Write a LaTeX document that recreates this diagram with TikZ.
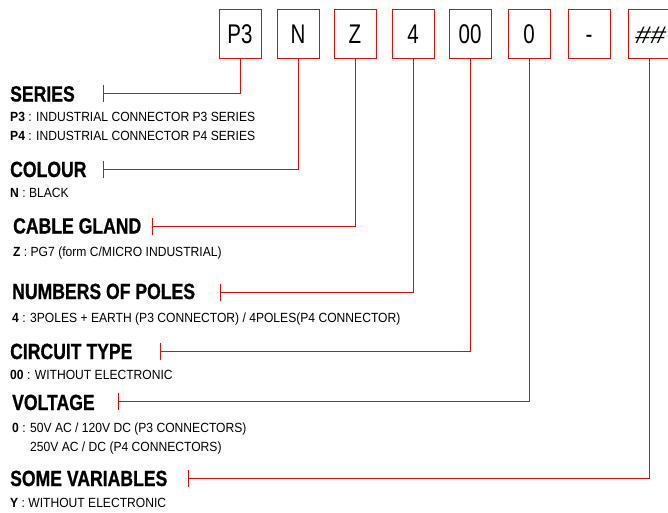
\documentclass[tikz,border=0pt]{standalone}
\usepackage{fontspec}
\setmainfont{Liberation Sans}[FakeStretch=0.91]
\newfontfamily\headfont{Liberation Sans}[FakeStretch=0.80, FakeBold=0.8]
\newfontfamily\codefont{Liberation Sans}[FakeStretch=0.76]
\newfontfamily\hashfont{Liberation Sans}[FakeStretch=1.12, FakeSlant=0.22]
\usetikzlibrary{arrows.meta}
\newcommand{\Key}[1]{\textbf{#1} : }

\begin{document}
\begin{tikzpicture}[
  x=1pt, y=-1pt,
  codebox/.style={draw=red, line width=0.8pt, minimum width=42pt,
    minimum height=49pt, inner sep=0pt, text height=19.5pt, text depth=0pt,
    font=\codefont\fontsize{27}{27}\selectfont},
  heading/.style={anchor=base west, inner sep=0pt,
    font=\headfont\bfseries\fontsize{22}{22}\selectfont},
  entry/.style={anchor=base west, inner sep=0pt,
    font=\fontsize{13.3}{16}\selectfont},
  lead/.style={red, line width=0.8pt, -{Bar[width=17pt]}},
]
  \useasboundingbox (0,0) rectangle (668,512);

  % Code boxes — one row
  \node (cSer)  [codebox] at (240,33.5) {P3};
  \node (cCol)  [codebox] at (298,33.5) {N};
  \node (cGland)[codebox] at (355,33.5) {Z};
  \node (cPoles)[codebox] at (413,33.5) {4};
  \node (cCirc) [codebox] at (470,33.5) {00};
  \node (cVolt) [codebox] at (529,33.5) {0};
  \node (cDash) [codebox] at (589,33.5) {-};
  \node (cVar)  [codebox, font=\hashfont\fontsize{24}{24}\selectfont]
    at (649,33.5) {\#\#\hspace{2pt}};

  % Headings and their entries
  \node (hSer) [heading] at (10,101.5) {SERIES};
  \node (eSer1) [entry] at (10,121.7) {\Key{P3}INDUSTRIAL CONNECTOR P3 SERIES};
  \node (eSer2) [entry] at (10,140.3) {\Key{P4}INDUSTRIAL CONNECTOR P4 SERIES};

  \node (hCol) [heading] at (10,177) {COLOUR};
  \node (eCol) [entry] at (10,197.5) {\Key{N}BLACK};

  \node (hGland) [heading] at (13,233.5) {CABLE GLAND};
  \node (eGland) [entry] at (13,256) {\Key{Z}PG7 (form C/MICRO INDUSTRIAL)};

  \node (hPoles) [heading] at (12,299) {NUMBERS OF POLES};
  \node (ePoles) [entry] at (12,322)
    {\Key{4}3POLES + EARTH (P3 CONNECTOR) / 4POLES(P4 CONNECTOR)};

  \node (hCirc) [heading] at (10,359) {CIRCUIT TYPE};
  \node (eCirc) [entry] at (10,379) {\Key{00}WITHOUT ELECTRONIC};

  \node (hVolt) [heading] at (12,410) {VOLTAGE};
  \node (eVolt1) [entry] at (12,432) {\Key{0}50V AC / 120V DC (P3 CONNECTORS)};
  \node (eVolt2) [entry] at (12,451)
    {\phantom{\Key{0}}250V AC / DC (P4 CONNECTORS)};

  \node (hVar) [heading] at (10,486) {SOME VARIABLES};
  \node (eVar) [entry] at (10,507) {\Key{Y}WITHOUT ELECTRONIC};

  % Tick ends of the leaders
  \coordinate (tSer)   at (103,93);
  \coordinate (tCol)   at (103,169);
  \coordinate (tGland) at (152,226.5);
  \coordinate (tPoles) at (220,292.5);
  \coordinate (tCirc)  at (160,351.5);
  \coordinate (tVolt)  at (118,401.5);
  \coordinate (tVar)   at (188,478);

  % Leaders from each box down to its heading
  \draw[lead] (cSer.south)   |- (tSer);
  \draw[lead] (cCol.south)   |- (tCol);
  \draw[lead] (cGland.south) |- (tGland);
  \draw[lead] (cPoles.south) |- (tPoles);
  \draw[lead] (cCirc.south)  |- (tCirc);
  \draw[lead] (cVolt.south)  |- (tVolt);
  \draw[lead] (cVar.south)   |- (tVar);

\end{tikzpicture}
\end{document}
